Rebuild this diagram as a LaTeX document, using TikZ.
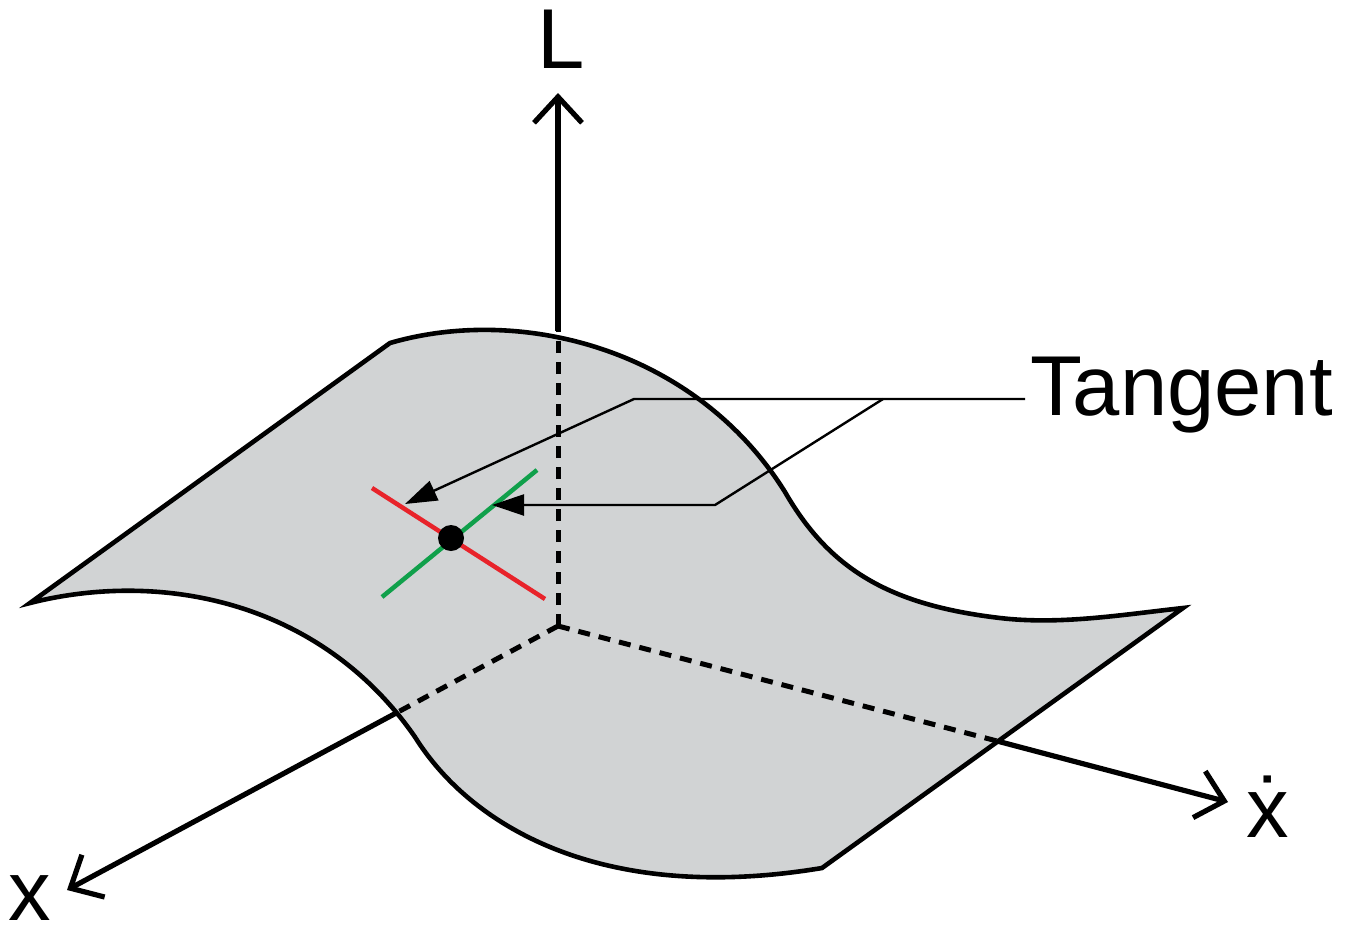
\documentclass[tikz,border=0pt]{standalone}
\usepackage{fontspec}
\setmainfont{Liberation Sans}
\usetikzlibrary{arrows.meta}
\definecolor{surf}{RGB}{209,211,212}
\definecolor{tanred}{RGB}{232,35,42}
\definecolor{tangreen}{RGB}{16,160,75}
\begin{document}
\begin{tikzpicture}[x=1pt,y=-1pt,
  outline/.style={line width=4.6pt, line join=miter},
  axisline/.style={line width=5.2pt},
  axisdash/.style={line width=5pt, dash pattern=on 12pt off 9pt},
  axarrow/.style={-{Straight Barb[length=26pt,width=48pt]}},
  leader/.style={line width=2.4pt,-{Triangle[length=32pt,width=21pt]}},
  tanline/.style={line width=4.5pt},
  lbl/.style={font=\fontsize{85}{90}\selectfont, inner sep=0pt}]
\useasboundingbox[fill=white] (0,0) rectangle (1351,930);
% surface
\coordinate (A) at (30,603);
\coordinate (B) at (390,343);
\coordinate (I1) at (785,492);
\coordinate (M1) at (1000,618);
\coordinate (C) at (1183,608);
\coordinate (D) at (822,868);
\coordinate (I2) at (415,737);
\filldraw[fill=surf, outline] (A) -- (B)
  .. controls (520,305) and (695,348) .. (I1)
  .. controls (830,570) and (890,605) .. (M1)
  .. controls (1060,625) and (1120,615) .. (C)
  -- (D)
  .. controls (600,905) and (470,825) .. (I2)
  .. controls (320,600) and (160,570) .. (A) -- cycle;
% axes
\coordinate (O) at (558,626);
\coordinate (Ltop) at (558,331);
\coordinate (Ltip) at (558,93);
\coordinate (Xedge) at (398,712);
\coordinate (Xtip) at (67,890);
\coordinate (Dedge) at (997,741);
\coordinate (Dtip) at (1228,802);
\draw[axisdash] (O) -- (Ltop);
\draw[axisdash] (O) -- (Xedge);
\draw[axisdash] (O) -- (Dedge);
\draw[axisline, axarrow] (Ltop) -- (Ltip);
\draw[axisline, axarrow] (Xedge) -- (Xtip);
\draw[axisline, axarrow] (Dedge) -- (Dtip);
% tangents
\draw[tanline, tanred] (372,488) -- (545,599);
\draw[tanline, tangreen] (382,597) -- (537,470);
\node[circle, fill=black, minimum size=26pt, inner sep=0pt] (dot) at (451,538) {};
% labels
\node[lbl, anchor=base west] (tangent) at (1030,415) {Tangent};
\node[lbl, anchor=base] (Llab) at (561,68) {L};
\node[lbl, anchor=base] (xlab) at (30,920) {x};
\node[lbl, anchor=base] (xdlab) at (1268,837) {ẋ};
% leaders
\coordinate (T0) at (1025,399);
\coordinate (k1) at (634,399);
\coordinate (tip1) at (405,504);
\coordinate (k2) at (883,399);
\coordinate (k3) at (715,505);
\coordinate (tip2) at (492,505);
\draw[leader] (T0) -- (k1) -- (tip1);
\draw[leader] (k2) -- (k3) -- (tip2);
\end{tikzpicture}
\end{document}
